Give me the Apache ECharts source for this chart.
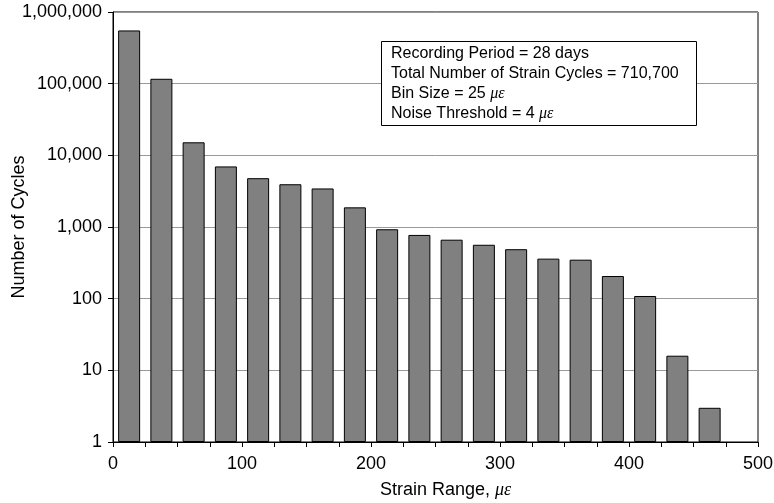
<!DOCTYPE html>
<html>
<head>
<meta charset="utf-8">
<script src="https://cdn.jsdelivr.net/npm/echarts@6/dist/echarts.min.js"></script>
<style>html,body{margin:0;padding:0;background:#fff;}#c{width:774px;height:503px;}</style>
</head>
<body>
<div id="c"></div>
<script>
// Bin centres (strain range, microstrain) and number of cycles per bin
var binCenters = [12.5, 37.5, 62.5, 87.5, 112.5, 137.5, 162.5, 187.5, 212.5, 237.5, 262.5, 287.5, 312.5, 337.5, 362.5, 387.5, 412.5, 437.5, 462.5];
var cycleCounts = [553000, 117000, 15200, 7000, 4800, 3950, 3450, 1880, 930, 775, 665, 565, 490, 362, 350, 207, 109, 16, 3];
var noteLines = ['Recording Period = 28 days', 'Total Number of Strain Cycles = 710,700', 'Bin Size = 25 ', 'Noise Threshold = 4 '];

var sans = 'Liberation Sans, Arial, sans-serif';
var serif = 'Liberation Serif, Times New Roman, serif';
var chart = echarts.init(document.getElementById('c'));
var data = binCenters.map(function (x, i) { return [x, cycleCounts[i]]; });

function fmt(v) { return Math.round(v).toString().replace(/\B(?=(\d{3})+(?!\d))/g, ','); }

chart.setOption({
  animation: false,
  backgroundColor: '#fff',
  title: {
    left: 381, top: 39,
    backgroundColor: '#fff', borderColor: '#000', borderWidth: 1,
    padding: [5, 18, 4, 10],
    text: '{a|' + noteLines[0] + '}\n{a|' + noteLines[1] + '}\n{a|' + noteLines[2] + '}{m|με}\n{a|' + noteLines[3] + '}{m|με}',
    textStyle: {
      fontWeight: 'normal',
      rich: {
        a: { fontFamily: sans, fontSize: 16, fontWeight: 'normal', color: '#000', lineHeight: 20 },
        m: { fontFamily: serif, fontStyle: 'italic', fontWeight: 'normal', fontSize: 16, color: '#000', lineHeight: 20 }
      }
    }
  },
  grid: { left: 113, top: 12, right: 16, bottom: 61, containLabel: false, outerBoundsMode: 'none', show: true, borderColor: '#000', borderWidth: 1, backgroundColor: 'transparent' },
  xAxis: {
    type: 'value', min: 0, max: 500, interval: 100,
    name: '{a|Strain Range, }{m|με}', nameLocation: 'middle', nameGap: 39, nameMoveOverlap: false,
    nameTextStyle: { padding: [0, 0, 0, 20], rich: {
      a: { fontFamily: sans, fontSize: 18, color: '#000' },
      m: { fontFamily: serif, fontStyle: 'italic', fontSize: 18, color: '#000' }
    } },
    axisLine: { show: true, lineStyle: { color: '#000', width: 1 } },
    axisTick: { show: true, inside: false, length: 5, lineStyle: { color: '#000' } },
    minorTick: { show: true, splitNumber: 4, length: 5, lineStyle: { color: '#000' } },
    splitLine: { show: false },
    axisLabel: { fontFamily: sans, fontSize: 18, color: '#000', margin: 13 }
  },
  yAxis: {
    type: 'log', logBase: 10, min: 1, max: 1000000,
    name: 'Number of Cycles', nameLocation: 'middle', nameGap: 85, nameMoveOverlap: false,
    nameTextStyle: { fontFamily: sans, fontSize: 18, color: '#000' },
    axisLine: { show: true, lineStyle: { color: '#000', width: 1 } },
    axisTick: { show: true, inside: false, length: 5, lineStyle: { color: '#000' } },
    splitLine: { show: true, lineStyle: { color: '#999', width: 1 } },
    axisLabel: { fontFamily: sans, fontSize: 18, color: '#000', margin: 11, formatter: fmt }
  },
  series: [{
    type: 'bar',
    data: data,
    barWidth: 22,
    itemStyle: { color: '#808080', borderColor: '#000', borderWidth: 1 }
  }]
});
</script>
</body>
</html>
